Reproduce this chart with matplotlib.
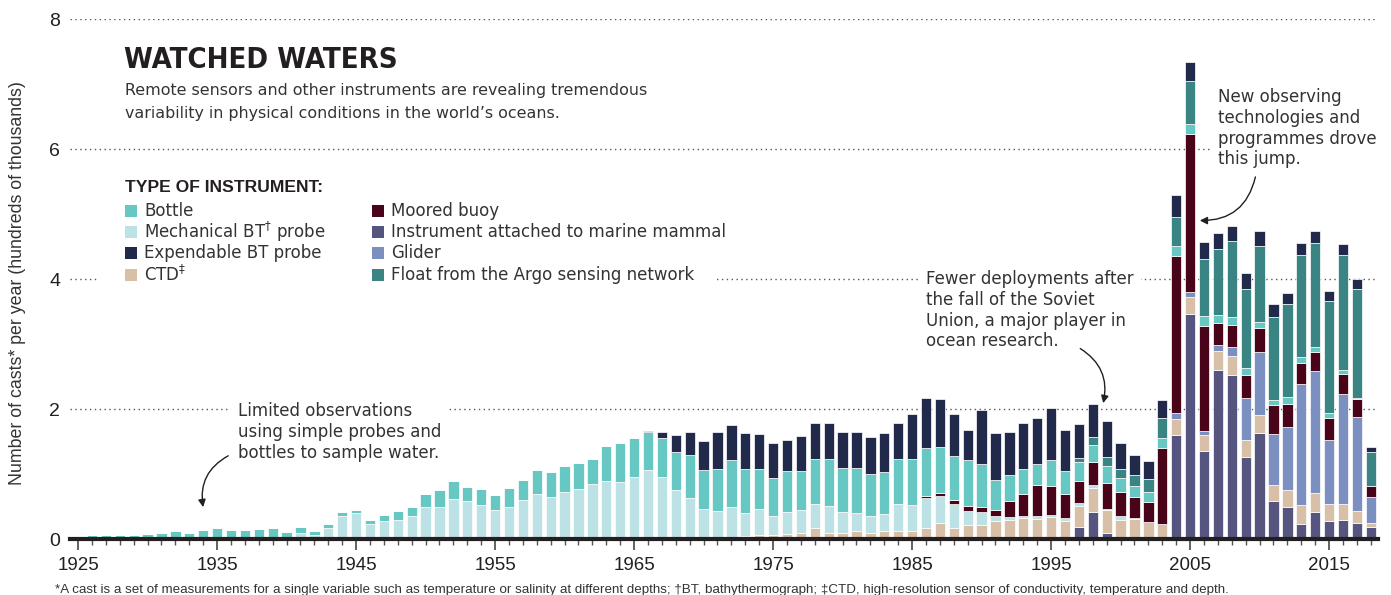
import matplotlib
matplotlib.use("Agg")
import matplotlib.pyplot as plt
from matplotlib import font_manager
from matplotlib.patches import Rectangle
import numpy as np

# values in hundreds of thousands of casts per year
years = np.arange(1925, 2019)


def pad(start, vals):
    out = np.zeros(len(years))
    i = start - years[0]
    out[i:i + len(vals)] = vals
    return out


bottle = pad(1925, [
    0.04, 0.057, 0.067, 0.067, 0.057, 0.078, 0.088, 0.124, 0.10, 0.134,
    0.17, 0.145, 0.134, 0.15, 0.165, 0.114, 0.098, 0.062, 0.057, 0.054,
    0.04, 0.073, 0.088, 0.13, 0.15, 0.187, 0.26, 0.275, 0.216, 0.245,
    0.233, 0.29, 0.31, 0.375, 0.39, 0.41, 0.405, 0.395, 0.53, 0.59,
    0.595, 0.575, 0.605, 0.58, 0.66, 0.594, 0.645, 0.72, 0.68, 0.615,
    0.58, 0.62, 0.61, 0.695, 0.72, 0.67, 0.685, 0.643, 0.65, 0.685,
    0.705, 0.74, 0.72, 0.68, 0.71, 0.66, 0.47, 0.41, 0.39, 0.32,
    0.40, 0.35, 0.30, 0.26, 0.26, 0.206, 0.17, 0.154, 0.154, 0.154,
    0.15, 0.15, 0.13, 0.108, 0.108, 0.087, 0.067, 0.113, 0.098, 0.072,
    0.067, 0.067, 0.02, 0.0])
mech_bt = pad(1941, [
    0.088, 0.057, 0.17, 0.356, 0.40, 0.227, 0.279, 0.30, 0.35, 0.50,
    0.50, 0.615, 0.59, 0.52, 0.444, 0.50, 0.60, 0.69, 0.64, 0.72,
    0.765, 0.84, 0.90, 0.88, 0.96, 1.065, 0.95, 0.76, 0.63, 0.46,
    0.43, 0.464, 0.36, 0.398, 0.293, 0.348, 0.352, 0.375, 0.417, 0.332,
    0.27, 0.257, 0.26, 0.41, 0.38, 0.465, 0.416, 0.364, 0.22, 0.20,
    0.08, 0.04, 0.036, 0.05, 0.036, 0.05, 0.04, 0.057, 0.015, 0.05,
    0.01])
exp_bt = pad(1966, [
    0.02, 0.095, 0.267, 0.35, 0.456, 0.575, 0.54, 0.553, 0.55, 0.54,
    0.49, 0.54, 0.545, 0.56, 0.56, 0.56, 0.57, 0.60, 0.565, 0.70,
    0.77, 0.73, 0.64, 0.45, 0.83, 0.725, 0.66, 0.71, 0.70, 0.80,
    0.64, 0.52, 0.50, 0.545, 0.40, 0.31, 0.278, 0.278, 0.33, 0.29,
    0.257, 0.24, 0.24, 0.237, 0.22, 0.20, 0.18, 0.18, 0.19, 0.165,
    0.17, 0.154, 0.077])
ctd = pad(1972, [
    0.026, 0.04, 0.057, 0.067, 0.072, 0.088, 0.165, 0.093, 0.088, 0.12,
    0.10, 0.12, 0.13, 0.13, 0.165, 0.24, 0.176, 0.21, 0.21, 0.27,
    0.30, 0.32, 0.305, 0.334, 0.27, 0.335, 0.36, 0.36, 0.30, 0.31,
    0.267, 0.23, 0.247, 0.27, 0.247, 0.30, 0.30, 0.27, 0.27, 0.247,
    0.25, 0.288, 0.288, 0.257, 0.231, 0.185, 0.067])
buoy = pad(1981, [
    0.015, 0.0, 0.0, 0.0, 0.015, 0.026, 0.045, 0.057, 0.08, 0.08,
    0.093, 0.24, 0.33, 0.48, 0.44, 0.37, 0.33, 0.355, 0.396, 0.375,
    0.32, 0.30, 1.17, 2.42, 2.43, 1.61, 0.34, 0.34, 0.36, 0.375,
    0.447, 0.36, 0.324, 0.298, 0.34, 0.308, 0.283, 0.16])
mammal = pad(1997, [
    0.18, 0.42, 0.087, 0.0, 0.0, 0.0, 0.0, 1.60, 3.46, 1.36,
    2.60, 2.52, 1.26, 1.635, 0.586, 0.50, 0.237, 0.416, 0.283, 0.30,
    0.247, 0.18])
glider = pad(2004, [
    0.093, 0.07, 0.062, 0.077, 0.14, 0.64, 0.967, 0.787, 0.967, 1.856,
    1.877, 0.987, 1.70, 1.44, 0.406])
argo = pad(1997, [
    0.067, 0.123, 0.15, 0.14, 0.17, 0.206, 0.31, 0.447, 0.67, 0.88,
    1.02, 1.17, 1.21, 1.18, 1.285, 1.42, 1.573, 1.604, 1.72, 1.758,
    1.67, 0.52])

# bottom to top stacking order
series = [
    ('Instrument attached to marine mammal', mammal, '#56557f'),
    ('CTD', ctd, '#d8c0a8'),
    ('Mechanical BT probe', mech_bt, '#bde2e5'),
    ('Glider', glider, '#7b8fc1'),
    ('Moored buoy', buoy, '#4a0419'),
    ('Bottle', bottle, '#67c7c2'),
    ('Float from the Argo sensing network', argo, '#3a8484'),
    ('Expendable BT probe', exp_bt, '#222a4c'),
]
colors = {name: c for name, v, c in series}

plt.rcParams['font.family'] = ['DejaVu Sans']
txt = '#333333'
lib = 'Liberation Sans'

# look for a condensed heavy face for the headline
cond = [f for f in font_manager.fontManager.ttflist
        if any(k in f.fname for k in ('Condensed', 'Narrow', 'Cond'))
        and f.weight in (700, 800, 900, 'bold', 'heavy', 'black')]
cond.sort(key=lambda f: (0 if 'Bold' in f.fname else 1, f.fname))
if cond:
    title_fp = font_manager.FontProperties(fname=cond[0].fname, size=21)
else:
    title_fp = font_manager.FontProperties(family=lib, weight='bold', size=19)

W, H = 1391, 595
fig = plt.figure(figsize=(W / 100, H / 100), dpi=100)


def fx(px):
    return px / W


def fy(py):
    return 1 - py / H


ax = fig.add_axes([fx(70), fy(539), (1378 - 70) / W, (539 - 19) / H])
ax.set_xlim(1924.42, 2018.52)
ax.set_ylim(0, 8)

bottom = np.zeros(len(years))
for name, vals, c in series:
    ax.bar(years, vals, bottom=bottom, width=0.74, color=c,
           edgecolor='white', linewidth=0.5, zorder=2)
    bottom = bottom + vals

for yv in [2, 4, 6, 8]:
    ax.axhline(yv, color='#555555', lw=1, ls=(0, (1, 2.5)), zorder=0.5)

for s in ['top', 'right', 'left']:
    ax.spines[s].set_visible(False)
ax.spines['bottom'].set_linewidth(3)
ax.spines['bottom'].set_color('#231f20')
ax.spines['bottom'].set_zorder(3)

ax.set_xticks(np.arange(1925, 2016, 10))
ax.set_xticks(years, minor=True)
ax.tick_params(axis='x', which='major', length=8, width=1.3, color='#555555',
               labelsize=13.5, pad=5, labelcolor='#231f20')
ax.tick_params(axis='x', which='minor', length=4, width=1, color='#555555')
ax.set_yticks([0, 2, 4, 6, 8])
ax.tick_params(axis='y', length=0, labelsize=14, pad=7, labelcolor='#231f20')
for lab in ax.get_xticklabels() + ax.get_yticklabels():
    lab.set_family(lib)

fig.text(fx(18), fy(283), 'Number of casts* per year (hundreds of thousands)',
         rotation=90, ha='center', va='center', fontsize=12.8, color=txt, family=lib)

# title block with white background hiding the gridlines
fig.patches.append(Rectangle((fx(98), fy(290)), fx(716 - 98), (290 - 170) / H,
                             transform=fig.transFigure, facecolor='white',
                             edgecolor='none', zorder=1))
fig.text(fx(124), fy(60), 'WATCHED WATERS', fontproperties=title_fp,
         color='#231f20', ha='left', va='center')
fig.text(fx(125), fy(83), 'Remote sensors and other instruments are revealing tremendous\n'
         'variability in physical conditions in the world\u2019s oceans.',
         fontsize=11.4, color=txt, ha='left', va='top', linespacing=1.65)

fig.text(fx(125), fy(188), 'TYPE OF INSTRUMENT:', fontsize=12.6, fontweight='bold',
         family=lib, color='#231f20', ha='left', va='center', zorder=2)
col1 = ['Bottle', 'Mechanical BT probe', 'Expendable BT probe', 'CTD']
col1_lbl = ['Bottle', 'Mechanical BT$^{\u2020}$ probe', 'Expendable BT probe', 'CTD$^{\u2021}$']
col2 = ['Moored buoy', 'Instrument attached to marine mammal', 'Glider',
        'Float from the Argo sensing network']
for col, labels, x0 in [(col1, col1_lbl, 125), (col2, col2, 372)]:
    for i, (key, lab) in enumerate(zip(col, labels)):
        yc = 211 + i * 21.2
        fig.patches.append(Rectangle((fx(x0), fy(yc + 6)), 12 / W, 12 / H,
                                     transform=fig.transFigure,
                                     facecolor=colors[key], edgecolor='none', zorder=2))
        fig.text(fx(x0 + 19), fy(yc), lab, fontsize=12, color=txt,
                 ha='left', va='center', zorder=2)

# annotations
box = dict(facecolor='white', edgecolor='none', pad=5)
aprops = dict(arrowstyle='-|>', color='#231f20', lw=1, mutation_scale=11,
              shrinkA=0, shrinkB=0)
ax.text(1936.5, 2.1, 'Limited observations\nusing simple probes and\nbottles to sample water.',
        fontsize=12, color=txt, ha='left', va='top', linespacing=1.2,
        bbox=box, zorder=4)
ax.annotate('', xy=(1934.0, 0.49), xytext=(1935.8, 1.28),
            arrowprops=dict(connectionstyle='arc3,rad=0.35', **aprops), zorder=4)

ax.text(1986.0, 4.14, 'Fewer deployments after\nthe fall of the Soviet\n'
        'Union, a major player in\nocean research.',
        fontsize=12, color=txt, ha='left', va='top', linespacing=1.2,
        bbox=box, zorder=4)
ax.annotate('', xy=(1998.75, 2.09), xytext=(1997.1, 2.93),
            arrowprops=dict(connectionstyle='arc3,rad=-0.35', **aprops), zorder=4)

ax.text(2007.0, 6.94, 'New observing\ntechnologies and\nprogrammes drove\nthis jump.',
        fontsize=12, color=txt, ha='left', va='top', linespacing=1.2,
        bbox=box, zorder=4)
ax.annotate('', xy=(2005.7, 4.9), xytext=(2009.7, 5.57),
            arrowprops=dict(connectionstyle='arc3,rad=-0.4', **aprops), zorder=4)

fig.text(fx(55), fy(590), '*A cast is a set of measurements for a single variable such as '
         'temperature or salinity at different depths; \u2020BT, bathythermograph; '
         '\u2021CTD, high-resolution sensor of conductivity, temperature and depth.',
         fontsize=9.6, color=txt, ha='left', va='center', family=lib)

fig.savefig('out.png', dpi=100)
